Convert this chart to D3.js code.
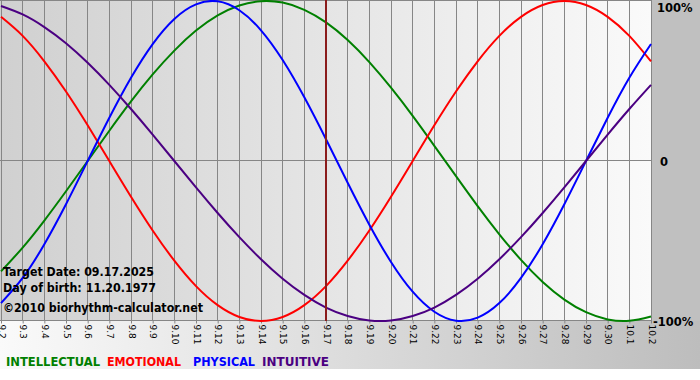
<!DOCTYPE html>
<html>
<head>
<meta charset="utf-8">
<script src="https://cdn.jsdelivr.net/npm/d3@7"></script>
<style>
  body { margin:0; background:#fff; }
  svg { display:block; }
</style>
</head>
<body>
<div id="chart"></div>
<script>

// biorhythm chart, 9.2 -> 10.2

var days = ["9.2","9.3","9.4","9.5","9.6","9.7","9.8","9.9","9.10","9.11","9.12","9.13","9.14","9.15","9.16","9.17",
            "9.18","9.19","9.20","9.21","9.22","9.23","9.24","9.25","9.26","9.27","9.28","9.29","9.30","10.1","10.2"];

var intellectual = [-0.690,-0.541,-0.372,-0.189,0,0.189,0.372,0.541,0.690,0.815,0.910,0.972,0.999,0.990,0.945,0.866,
                    0.756,0.618,0.458,0.282,0.095,-0.095,-0.282,-0.458,-0.618,-0.756,-0.866,-0.945,-0.990,-0.999,-0.972];
var emotional = [0.901,0.782,0.623,0.434,0.223,0,-0.223,-0.434,-0.623,-0.782,-0.901,-0.975,-1,-0.975,-0.901,-0.782,
                 -0.623,-0.434,-0.223,0,0.223,0.434,0.623,0.782,0.901,0.975,1,0.975,0.901,0.782,0.623];
var physical = [-0.888,-0.731,-0.520,-0.270,0,0.270,0.520,0.731,0.888,0.979,0.998,0.942,0.817,0.631,0.398,0.136,
                -0.136,-0.398,-0.631,-0.817,-0.942,-0.998,-0.979,-0.888,-0.731,-0.520,-0.270,0,0.270,0.520,0.731];
var intuitive = [0.969,0.916,0.837,0.736,0.614,0.476,0.325,0.165,0,-0.165,-0.325,-0.476,-0.614,-0.736,-0.837,-0.916,
                 -0.969,-0.997,-0.997,-0.969,-0.916,-0.837,-0.736,-0.614,-0.476,-0.325,-0.165,0,0.165,0.325,0.476];

var yTicks = [1, 0, -1];
var yTickLabels = ["100%", "0", "-100%"];
var targetDay = "9.17";

var series = [
  {name:"INTELLECTUAL", values:intellectual, color:"#008000"},
  {name:"EMOTIONAL",    values:emotional,    color:"#ff0000"},
  {name:"PHYSICAL",     values:physical,     color:"#0000ff"},
  {name:"INTUITIVE",    values:intuitive,    color:"#4b0082"}
];

var width = 700, height = 380;
var plotL = 1, plotR = 651, plotT = 1, plotB = 321;

var svg = d3.select("#chart").append("svg")
      .attr("width", width)
      .attr("height", height);

var defs = svg.append("defs");
var gPlot = defs.append("linearGradient").attr("id","plotBg");
gPlot.append("stop").attr("offset","0%").attr("stop-color","#d0d0d0");
gPlot.append("stop").attr("offset","100%").attr("stop-color","#fafafa");
var gBot = defs.append("linearGradient").attr("id","botBg");
gBot.append("stop").attr("offset","0%").attr("stop-color","#fafafa");
gBot.append("stop").attr("offset","100%").attr("stop-color","#bdbdbd");

// backgrounds
svg.append("rect").attr("x",0).attr("y",0).attr("width",width).attr("height",plotB)
   .attr("fill","#c0c0c0");
svg.append("rect").attr("x",0).attr("y",plotB).attr("width",width).attr("height",369-plotB)
   .attr("fill","url(#botBg)");
svg.append("rect").attr("x",0).attr("y",0).attr("width",plotR).attr("height",plotB)
   .attr("fill","url(#plotBg)");

var x = d3.scalePoint().domain(days).range([plotL, plotR]);
var y = d3.scaleLinear().domain([-1, 1]).range([plotB, plotT]);

// vertical grid
svg.append("g").selectAll("line")
   .data(days)
   .enter().append("line")
   .attr("x1", function(d){ return x(d); })
   .attr("x2", function(d){ return x(d); })
   .attr("y1", 0).attr("y2", plotB)
   .attr("stroke", "#868686")
   .attr("stroke-width", 1)
   .attr("shape-rendering","crispEdges");

// horizontal lines
svg.append("g").selectAll("line")
   .data(yTicks)
   .enter().append("line")
   .attr("x1", 0).attr("x2", plotR)
   .attr("y1", function(d){ return Math.round(y(d)) - 0.5; })
   .attr("y2", function(d){ return Math.round(y(d)) - 0.5; })
   .attr("stroke", "#868686");

// x axis
var xAxis = svg.append("g")
   .attr("transform", "translate(0," + (plotB - 0.5) + ")")
   .call(d3.axisBottom(x).tickSize(3).tickSizeOuter(0));
xAxis.select(".domain").remove();
xAxis.selectAll(".tick line").attr("stroke", "#868686");
xAxis.selectAll(".tick text")
   .attr("transform", "rotate(90)")
   .attr("x", 4).attr("y", 0).attr("dy", "0.32em")
   .attr("text-anchor", "start")
   .style("font-family", "Tahoma, 'DejaVu Sans', sans-serif")
   .style("font-size", "9px")
   .attr("fill", "#000");

// y labels on the right
var yLabX = [657, 660, 653];
var yLabDy = [11, 5, 5];
svg.append("g").selectAll("text")
   .data(yTicks)
   .enter().append("text")
   .attr("x", function(d,i){ return yLabX[i]; })
   .attr("y", function(d,i){ return y(d) + yLabDy[i]; })
   .style("font-family", "'DejaVu Sans', sans-serif")
   .style("font-weight", "bold")
   .style("font-size", "11.5px")
   .text(function(d,i){ return yTickLabels[i]; });

// curves
var line = d3.line()
   .x(function(d,i){ return x(days[i]); })
   .y(function(d){ return y(d); })
   .curve(d3.curveNatural);

svg.append("g").selectAll("path")
   .data(series)
   .enter().append("path")
   .attr("d", function(d){ return line(d.values); })
   .attr("fill", "none")
   .attr("stroke", function(d){ return d.color; })
   .attr("stroke-width", 2);

// target day marker
svg.append("line")
   .attr("x1", x(targetDay)).attr("x2", x(targetDay))
   .attr("y1", 0).attr("y2", plotB)
   .attr("stroke", "#8b1c1c")
   .attr("stroke-width", 2);

// info text
var info = ["Target Date: 09.17.2025", "Day of birth: 11.20.1977", "\u00a92010 biorhythm-calculator.net"];
var infoY = [276, 292, 312];
var infoW = [151, 153, 200];
svg.append("g").selectAll("text")
   .data(info)
   .enter().append("text")
   .attr("x", 3)
   .attr("y", function(d,i){ return infoY[i]; })
   .attr("textLength", function(d,i){ return infoW[i]; })
   .attr("lengthAdjust", "spacingAndGlyphs")
   .style("font-family", "'DejaVu Sans', sans-serif")
   .style("font-weight", "bold")
   .style("font-size", "11.5px")
   .attr("fill", "#000")
   .text(function(d){ return d; });

// legend
var legX = [6, 107, 193, 262];
var legW = [94, 74, 62, 67];
svg.append("g").selectAll("text")
   .data(series)
   .enter().append("text")
   .attr("x", function(d,i){ return legX[i]; })
   .attr("y", 366)
   .attr("textLength", function(d,i){ return legW[i]; })
   .attr("lengthAdjust", "spacingAndGlyphs")
   .style("font-family", "'DejaVu Sans', sans-serif")
   .style("font-weight", "bold")
   .style("font-size", "12px")
   .attr("fill", function(d){ return d.color; })
   .text(function(d){ return d.name; });

</script>
</body>
</html>
